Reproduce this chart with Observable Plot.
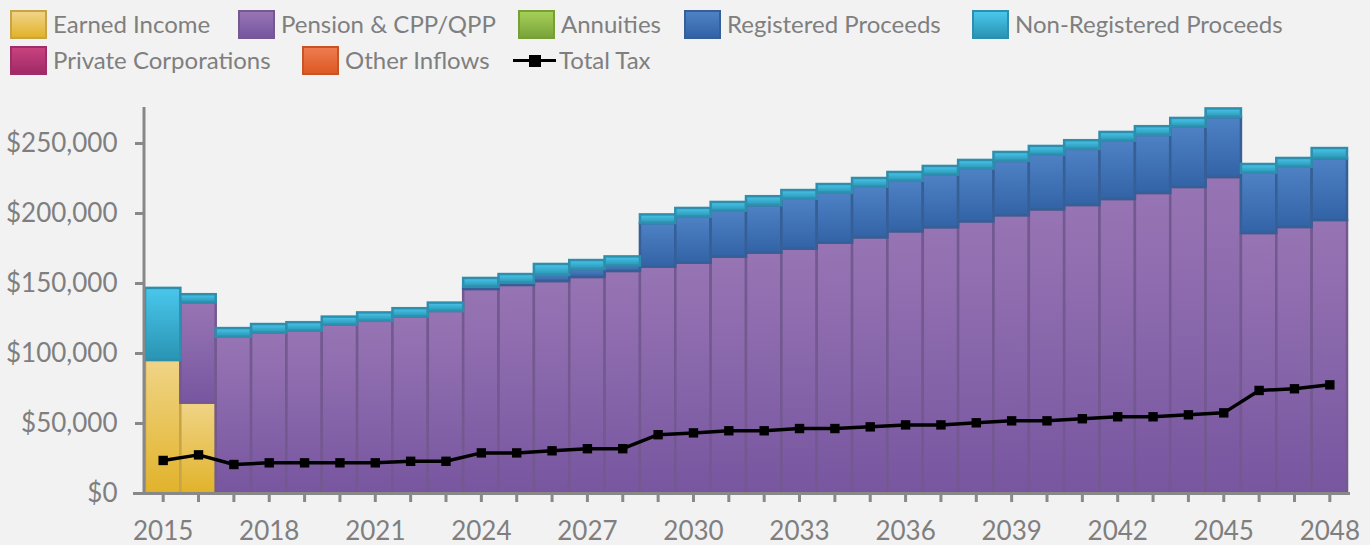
<!DOCTYPE html>
<html><head><meta charset="utf-8">
<script src="https://cdn.jsdelivr.net/npm/d3@7"></script>
<script src="https://cdn.jsdelivr.net/npm/@observablehq/plot@0.6"></script>
<style>
html,body{margin:0;padding:0;background:#f2f2f2;}
body{width:1370px;height:545px;overflow:hidden;font-family:Lato,"Open Sans",sans-serif;}
#legend{position:relative;height:80px;}
.item{position:absolute;display:flex;align-items:center;font-size:24px;color:#7f7f7f;white-space:nowrap;height:29px;}
.item .t{position:relative;top:-1.5px;}
.sw{width:33px;height:25px;border:2px solid;margin-right:6px;}
.ln{position:relative;width:43px;height:29px;margin-right:3px;}
.ln:before{content:"";position:absolute;left:0;right:0;top:13px;height:3px;background:#000;}
.ln:after{content:"";position:absolute;left:15.5px;top:8.5px;width:12px;height:12px;background:#000;}
</style></head>
<body>
<svg width="0" height="0" style="position:absolute"><defs id="grads"></defs></svg>
<div id="legend"></div>
<div id="chart"></div>
<script>
const years = [2015,2016,2017,2018,2019,2020,2021,2022,2023,2024,2025,2026,2027,2028,2029,2030,2031,2032,2033,2034,2035,2036,2037,2038,2039,2040,2041,2042,2043,2044,2045,2046,2047,2048];
const earnedIncome = [95000,64500,0,0,0,0,0,0,0,0,0,0,0,0,0,0,0,0,0,0,0,0,0,0,0,0,0,0,0,0,0,0,0,0];
const pension = [0,71700,111600,114500,116000,120200,123000,126000,130000,145700,148600,151400,154300,158600,161700,164500,168800,171700,174500,178800,182600,186900,189800,194000,198400,202600,205700,210000,214300,218600,225700,185700,190000,195000];
const annuities = [0,0,0,0,0,0,0,0,0,0,0,0,0,0,0,0,0,0,0,0,0,0,0,0,0,0,0,0,0,0,0,0,0,0];
const registered = [0,0,0,0,0,0,0,0,0,1600,1600,4400,5700,4000,31100,32900,32900,33900,35700,35700,36200,36200,37600,37700,38800,39100,40100,41700,41500,43100,42800,43100,43100,44000];
const nonRegistered = [51500,5800,6200,6200,6000,5800,6000,6000,6000,6300,6200,7800,6400,6400,6200,6200,6200,6400,6200,6200,6200,6200,6200,6200,6400,6200,6200,6200,6200,6200,6200,6200,6200,7400];
const privateCorps = [0,0,0,0,0,0,0,0,0,0,0,0,0,0,0,0,0,0,0,0,0,0,0,0,0,0,0,0,0,0,0,0,0,0];
const otherInflows = [0,0,0,0,0,0,0,0,0,0,0,0,0,0,0,0,0,0,0,0,0,0,0,0,0,0,0,0,0,0,0,0,0,0];
const totalTax = [23600,27600,20700,21900,21900,21900,21900,23000,23000,29000,29000,30500,32000,32000,42000,43300,44800,44800,46400,46400,47600,49000,49000,50500,51900,51900,53400,54800,54800,56200,57600,73600,74800,77600];
const yTicks = [0,50000,100000,150000,200000,250000];
const xLabelYears = [2015,2018,2021,2024,2027,2030,2033,2036,2039,2042,2045,2048];

const series = [
  {name:"Earned Income", values:earnedIncome, top:"#f0d487", bottom:"#e1b32a", stroke:"#c9a446"},
  {name:"Pension & CPP/QPP", values:pension, top:"#9775b4", bottom:"#7856a0", stroke:"#735990"},
  {name:"Annuities", values:annuities, top:"#a6cf58", bottom:"#79a43a", stroke:"#76a034"},
  {name:"Registered Proceeds", values:registered, top:"#4e82c4", bottom:"#3263a6", stroke:"#365f96"},
  {name:"Non-Registered Proceeds", values:nonRegistered, top:"#49c7ec", bottom:"#2a94b3", stroke:"#2d8fad"},
  {name:"Private Corporations", values:privateCorps, top:"#c8437f", bottom:"#a02a66", stroke:"#a02c68"},
  {name:"Other Inflows", values:otherInflows, top:"#ef7b4f", bottom:"#dc5a24", stroke:"#c85426"}
];
const seriesNames = series.map(s => s.name);

// gradients
const defs = document.getElementById("grads");
defs.innerHTML = series.map((s,i) =>
  `<linearGradient id="g${i}" x1="0" y1="0" x2="0" y2="1"><stop offset="0" stop-color="${s.top}"/><stop offset="1" stop-color="${s.bottom}"/></linearGradient>`).join("");

// legend
const legend = document.getElementById("legend");
const legendPos = [[10,10],[238,10],[518,10],[684,10],[972,10],[10,46],[302,46]];
series.forEach((s,i) => {
  const d = document.createElement("div");
  d.className = "item";
  d.style.left = legendPos[i][0] + "px"; d.style.top = legendPos[i][1] + "px";
  d.innerHTML = `<span class="sw" style="background:linear-gradient(${s.top},${s.bottom});border-color:${s.stroke}"></span><span class="t">${s.name}</span>`;
  legend.appendChild(d);
});
{
  const d = document.createElement("div");
  d.className = "item"; d.style.left = "513px"; d.style.top = "46px";
  d.innerHTML = `<span class="ln"></span><span class="t">Total Tax</span>`;
  legend.appendChild(d);
}

const rows = [];
years.forEach((yr, j) => series.forEach(s => { if (s.values[j] > 0) rows.push({year: yr, series: s.name, value: s.values[j]}); }));
const taxRows = years.map((yr, j) => ({year: yr, tax: totalTax[j]}));

const marks = [];
series.forEach((s, i) => {
  marks.push(Plot.barY(rows, Plot.filter(d => d.series === s.name,
    Plot.stackY({x: "year", y: "value", z: "series", order: seriesNames,
      fill: `url(#g${i})`, stroke: s.stroke, strokeWidth: 2.5}))));
});
marks.push(Plot.line(taxRows, {x: "year", y: "tax", stroke: "#000", strokeWidth: 3.5}));
marks.push(Plot.dot(taxRows, {x: "year", y: "tax", symbol: "square", r: 5.3, fill: "#000", stroke: "none"}));
marks.push(Plot.axisY({ticks: yTicks, tickFormat: d => "$" + d3.format(",")(d), tickSize: 10, tickPadding: 18,
  fontSize: 26, stroke: "#888", strokeWidth: 3, fill: "#7f7f7f", label: null}));
marks.push(Plot.axisX({ticks: years, tickFormat: d => xLabelYears.includes(d) ? String(d) : "", tickSize: 9, tickPadding: 19,
  fontSize: 26, stroke: "#888", strokeWidth: 3, fill: "#7f7f7f", label: null}));
marks.push(Plot.frame({anchor: "left", stroke: "#888", strokeWidth: 3, dx: -1.5}));
marks.push(Plot.ruleY([0], {stroke: "#888", strokeWidth: 3, insetLeft: -12, insetRight: -3}));

const chart = Plot.plot({
  width: 1370, height: 465,
  marginTop: 28, marginBottom: 52, marginLeft: 145, marginRight: 23,
  style: {background: "#f2f2f2", fontFamily: "Lato, 'Open Sans', sans-serif", color: "#7f7f7f", overflow: "visible"},
  x: {type: "band", domain: years, padding: 0, round: false, label: null},
  y: {domain: [0, 275000], label: null},
  marks
});
document.getElementById("chart").appendChild(chart);
</script>
</body></html>
